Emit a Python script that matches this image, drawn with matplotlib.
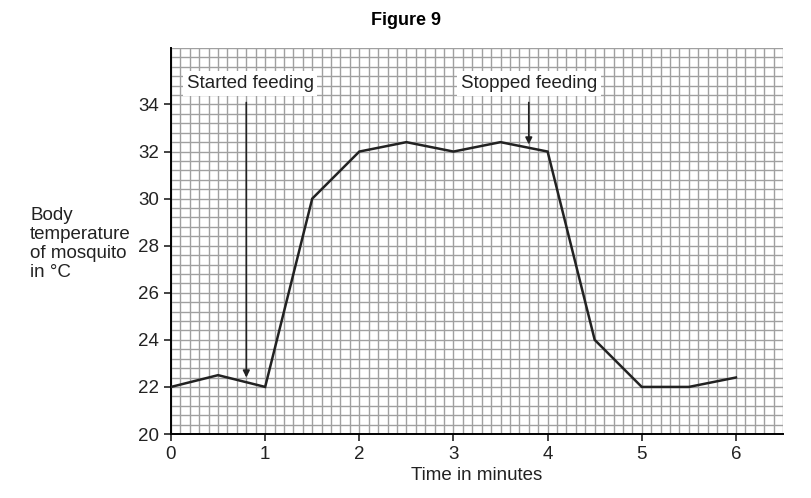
import matplotlib
matplotlib.use("Agg")
import matplotlib.pyplot as plt
import numpy as np

plt.rcParams['font.family'] = ['Liberation Sans', 'DejaVu Sans']

time_min = [0, 0.5, 1, 1.5, 2, 2.5, 3, 3.5, 4, 4.5, 5, 5.5, 6]
temp_c = [22, 22.5, 22, 30, 32, 32.4, 32, 32.4, 32, 24, 22, 22, 22.4]
x_ticks = [0, 1, 2, 3, 4, 5, 6]
y_ticks = [20, 22, 24, 26, 28, 30, 32, 34]
started_x, started_y = 0.8, 22.4
stopped_x, stopped_y = 3.8, 32.3

fig = plt.figure(figsize=(8.12, 4.98), dpi=100)
ax = fig.add_axes([171/812, 1 - 434/498, (783 - 171)/812, (434 - 48)/498])

xmax, ymax = 6.5, 36.4
ax.set_xlim(0, xmax)
ax.set_ylim(20, ymax)

# grid
for gx in np.arange(0, xmax + 1e-9, 0.1):
    ax.axvline(gx, color='#a0a0a0', lw=1.0, zorder=0)
for gy in np.arange(20, ymax + 1e-9, 0.4):
    ax.axhline(gy, color='#a0a0a0', lw=1.0, zorder=0)

ax.plot(time_min, temp_c, color='#222222', lw=1.8, zorder=3, solid_joinstyle='miter')

ax.spines['top'].set_visible(False)
ax.spines['right'].set_visible(False)
ax.spines['left'].set_linewidth(1.4)
ax.spines['bottom'].set_linewidth(1.4)
ax.set_xticks(x_ticks)
ax.set_yticks(y_ticks)
ax.tick_params(axis='both', labelsize=13.5, length=5, width=1.2, color='#222222', labelcolor='#222222')
ax.set_xlabel('Time in minutes', fontsize=13.5, color='#222222', labelpad=3)

fig.text(30/812, 1 - 244/498, 'Body\ntemperature\nof mosquito\nin °C', fontsize=13.5,
         color='#222222', ha='left', va='center', linespacing=1.15)
fig.text(0.5, 1 - 20/498, 'Figure 9', fontsize=13, fontweight='bold', ha='center', va='center')

bbox = dict(boxstyle='square,pad=0.2', fc='white', ec='none')
ax.annotate('Started feeding', xy=(started_x, started_y), xytext=(0.84, 34.9),
            fontsize=13.5, ha='center', va='center', color='#222222', bbox=bbox,
            arrowprops=dict(arrowstyle='-|>', color='#222222', lw=1.2, mutation_scale=10,
                            shrinkA=5, shrinkB=0, relpos=(0.47, 0.5)), zorder=5)
ax.annotate('Stopped feeding', xy=(stopped_x, stopped_y), xytext=(3.8, 34.9),
            fontsize=13.5, ha='center', va='center', color='#222222', bbox=bbox,
            arrowprops=dict(arrowstyle='-|>', color='#222222', lw=1.2, mutation_scale=10,
                            shrinkA=5, shrinkB=0), zorder=5)

fig.savefig('out.png', dpi=100)
